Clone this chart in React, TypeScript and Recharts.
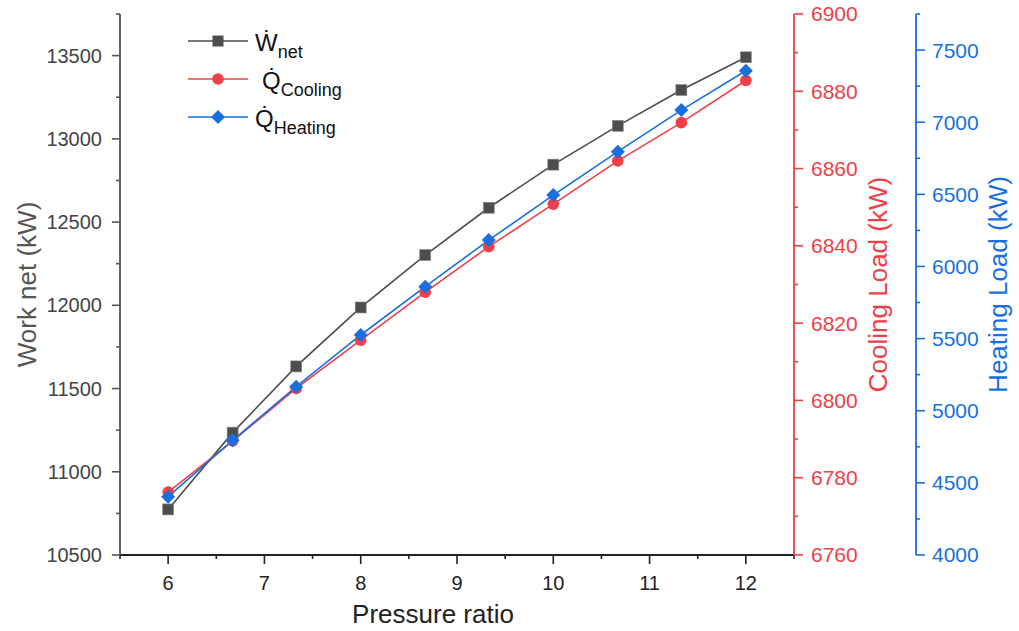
import { Legend, Line, LineChart, XAxis, YAxis } from 'recharts';

const pressureRatio = [6, 6.67, 7.33, 8, 8.67, 9.33, 10, 10.67, 11.33, 12];
const workNet = [10774, 11235, 11633, 11987, 12302, 12586, 12845, 13078, 13293, 13490];
const coolingLoad = [6776.3, 6789.5, 6803.1, 6815.6, 6828.0, 6839.8, 6850.8, 6862.0, 6871.9, 6882.8];
const heatingLoad = [4404, 4795, 5167, 5525, 5860, 6183, 6495, 6796, 7084, 7357];

const xMajor = [6, 7, 8, 9, 10, 11, 12];
const workMajor = [10500, 11000, 11500, 12000, 12500, 13000, 13500];
const coolMajor = [6760, 6780, 6800, 6820, 6840, 6860, 6880, 6900];
const heatMajor = [4000, 4500, 5000, 5500, 6000, 6500, 7000, 7500];

const legendSymbols = ['Ẇ', 'Q̇', 'Q̇'];
const legendSubs = ['net', 'Cooling', 'Heating'];

const GRAY = '#4d4d4d';
const RED = '#ef4048';
const BLUE = '#1a6fdf';
const FONT = '"Liberation Sans", Arial, sans-serif';

const data = pressureRatio.map((pr, i) => ({
  pr,
  work: workNet[i],
  cool: coolingLoad[i],
  heat: heatingLoad[i],
}));

// majors plus the half-steps between them, up to the axis ends
function withMinor(major: number[], lo: number, hi: number) {
  const step = (major[1] - major[0]) / 2;
  const out: number[] = [];
  for (let v = lo; v <= hi + 1e-9; v += step) out.push(Math.round(v * 1000) / 1000);
  return out;
}

type TickOpts = {
  side: 'left' | 'right' | 'bottom';
  majors: number[];
  color: string;
  lineColor: string;
  size: number;
  margin: number;
  fontSize: number;
};

function makeTick(o: TickOpts) {
  return (props: any) => {
    const { x, y, payload } = props;
    const v = payload.value;
    const major = o.majors.some((m) => Math.abs(m - v) < 1e-6);
    const len = major ? o.size : 4;
    if (o.side === 'bottom') {
      const ay = y - o.margin - o.size;
      return (
        <g>
          <line x1={x} x2={x} y1={ay} y2={ay + len} stroke={o.lineColor} strokeWidth={1.6} />
          {major && (
            <text x={x} y={y} dy="0.71em" textAnchor="middle" fill={o.color} fontSize={o.fontSize} fontFamily={FONT}>
              {v}
            </text>
          )}
        </g>
      );
    }
    if (o.side === 'left') {
      const ax = x + o.margin + o.size;
      return (
        <g>
          <line x1={ax - len} x2={ax} y1={y} y2={y} stroke={o.lineColor} strokeWidth={1.6} />
          {major && (
            <text x={x} y={y} dy="0.355em" textAnchor="end" fill={o.color} fontSize={o.fontSize} fontFamily={FONT}>
              {v}
            </text>
          )}
        </g>
      );
    }
    const ax = x - o.margin - o.size;
    return (
      <g>
        <line x1={ax} x2={ax + len} y1={y} y2={y} stroke={o.lineColor} strokeWidth={1.6} />
        {major && (
          <text x={x} y={y} dy="0.355em" textAnchor="start" fill={o.color} fontSize={o.fontSize} fontFamily={FONT}>
            {v}
          </text>
        )}
      </g>
    );
  };
}

const squareDot = (p: any) =>
  p.cx == null ? <g key={p.index} /> : (
    <rect key={p.index} x={p.cx - 5.5} y={p.cy - 5.5} width={11} height={11} fill={GRAY} stroke="#8c8c8c" strokeWidth={0.6} />
  );
const circleDot = (p: any) =>
  p.cx == null ? <g key={p.index} /> : <circle key={p.index} cx={p.cx} cy={p.cy} r={5.8} fill={RED} />;
const diamondDot = (p: any) =>
  p.cx == null ? <g key={p.index} /> : (
    <path key={p.index} d={`M${p.cx},${p.cy - 7}L${p.cx + 7},${p.cy}L${p.cx},${p.cy + 7}L${p.cx - 7},${p.cy}Z`} fill={BLUE} />
  );

function LegendBox() {
  const rows = [21, 59, 97];
  const colors = [GRAY, RED, BLUE];
  const textX = [75, 82, 75];
  return (
    <svg width={200} height={130} style={{ overflow: 'visible' }}>
      {rows.map((ry, i) => (
        <g key={i}>
          <line x1={8} x2={68} y1={ry} y2={ry} stroke={colors[i]} strokeWidth={1.6} />
          {i === 0 && <rect x={32.5} y={ry - 5.5} width={11} height={11} fill={GRAY} />}
          {i === 1 && <circle cx={38} cy={ry} r={5.8} fill={RED} />}
          {i === 2 && <path d={`M38,${ry - 7}L45,${ry}L38,${ry + 7}L31,${ry}Z`} fill={BLUE} />}
          <text x={textX[i]} y={ry + 10} fontSize={24} fill="#111" fontFamily={FONT}>
            {legendSymbols[i]}
            <tspan fontSize={18} dy={6.5}>
              {legendSubs[i]}
            </tspan>
          </text>
        </g>
      ))}
    </svg>
  );
}

export default function App() {
  return (
    <div style={{ position: 'absolute', left: 0, top: 0, width: 1019, height: 631, background: '#fff' }}>
      <LineChart
        width={1019}
        height={631}
        data={data}
        margin={{ top: 14, right: 0, bottom: 0, left: 0 }}
        style={{ fontFamily: FONT }}
      >
        <XAxis
          type="number"
          dataKey="pr"
          domain={[5.5, 12.5]}
          ticks={withMinor(xMajor, 5.5, 12.5)}
          interval={0}
          height={76}
          tickSize={9}
          tickMargin={12}
          tickLine={false}
          axisLine={{ stroke: '#222', strokeWidth: 1.8 }}
          tick={makeTick({ side: 'bottom', majors: xMajor, color: '#222', lineColor: '#222', size: 9, margin: 12, fontSize: 20 })}
          label={{ value: 'Pressure ratio', position: 'center', dx: -24, dy: 21, fill: '#222', fontSize: 26 }}
        />
        <YAxis
          yAxisId="work"
          orientation="left"
          type="number"
          domain={[10500, 13750]}
          ticks={withMinor(workMajor, 10500, 13750)}
          interval={0}
          width={120}
          tickSize={8}
          tickMargin={10}
          tickLine={false}
          axisLine={{ stroke: '#555', strokeWidth: 1.8 }}
          tick={makeTick({ side: 'left', majors: workMajor, color: '#444', lineColor: '#555', size: 8, margin: 10, fontSize: 20 })}
          label={{ value: 'Work net (kW)', angle: -90, position: 'center', dx: -33, fill: '#555', fontSize: 26 }}
        />
        <YAxis
          yAxisId="cool"
          orientation="right"
          type="number"
          domain={[6760, 6900]}
          ticks={withMinor(coolMajor, 6760, 6900)}
          interval={0}
          width={122}
          tickSize={9}
          tickMargin={8}
          tickLine={false}
          axisLine={{ stroke: RED, strokeWidth: 1.8 }}
          tick={makeTick({ side: 'right', majors: coolMajor, color: RED, lineColor: RED, size: 9, margin: 8, fontSize: 21 })}
          label={{ value: 'Cooling Load (kW)', angle: -90, position: 'center', dx: 23, fill: RED, fontSize: 26 }}
        />
        <YAxis
          yAxisId="heat"
          orientation="right"
          type="number"
          domain={[4000, 7750]}
          ticks={withMinor(heatMajor, 4000, 7750)}
          interval={0}
          width={103}
          tickSize={9}
          tickMargin={7}
          tickLine={false}
          axisLine={{ stroke: BLUE, strokeWidth: 1.8 }}
          tick={makeTick({ side: 'right', majors: heatMajor, color: BLUE, lineColor: BLUE, size: 9, margin: 7, fontSize: 21 })}
          label={{ value: 'Heating Load (kW)', angle: -90, position: 'center', dx: 30, fill: BLUE, fontSize: 26 }}
        />
        <Legend
          layout="vertical"
          align="center"
          verticalAlign="middle"
          content={() => <LegendBox />}
          wrapperStyle={{ position: 'absolute', left: 180, top: 20, width: 200, height: 130 }}
        />
        <Line yAxisId="work" dataKey="work" name="W net" stroke={GRAY} strokeWidth={1.6} dot={squareDot} isAnimationActive={false} />
        <Line yAxisId="cool" dataKey="cool" name="Q cooling" stroke={RED} strokeWidth={1.6} dot={circleDot} isAnimationActive={false} />
        <Line yAxisId="heat" dataKey="heat" name="Q heating" stroke={BLUE} strokeWidth={1.6} dot={diamondDot} isAnimationActive={false} />
      </LineChart>
    </div>
  );
}
